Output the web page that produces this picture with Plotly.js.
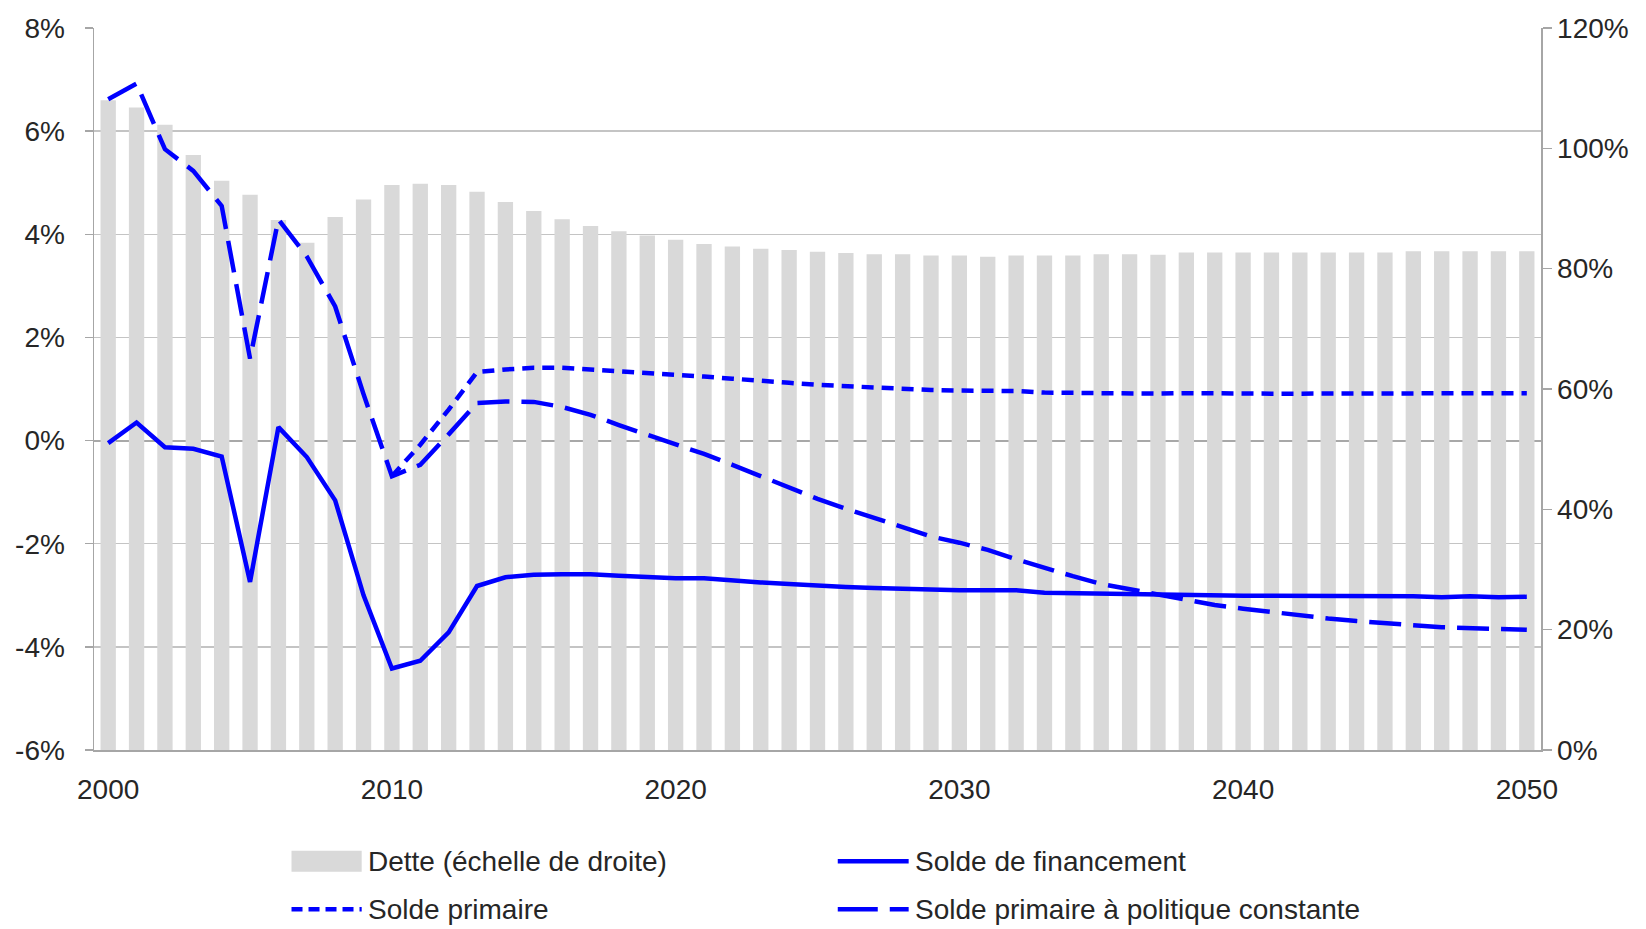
<!DOCTYPE html>
<html>
<head>
<meta charset="utf-8">
<script src="https://cdn.plot.ly/plotly-3.0.1.min.js"></script>
<style>html,body{margin:0;padding:0;background:#fff;}#chart{width:1646px;height:929px;}</style>
</head>
<body>
<div id="chart"></div>
<script>
var years = [];
for (var yr = 2000; yr <= 2050; yr++) years.push(yr);

var dette = [108.0,106.8,103.9,98.9,94.6,92.3,88.1,84.3,88.6,91.5,
  93.9,94.1,93.9,92.8,91.1,89.6,88.2,87.1,86.2,85.5,
  84.8,84.1,83.7,83.3,83.1,82.8,82.6,82.4,82.4,82.2,
  82.2,82.0,82.2,82.2,82.2,82.4,82.4,82.3,82.7,82.7,
  82.7,82.7,82.7,82.7,82.7,82.7,82.9,82.9,82.9,82.9,82.9];

var soldeFinancement = [-0.05,0.35,-0.13,-0.16,-0.31,-2.74,0.26,-0.32,-1.16,-3.0,
  -4.42,-4.27,-3.72,-2.82,-2.65,-2.6,-2.59,-2.59,-2.62,-2.65,
  -2.67,-2.67,-2.72,-2.75,-2.78,-2.82,-2.84,-2.86,-2.88,-2.9,
  -2.9,-2.9,-2.9,-2.95,-2.96,-2.98,-2.99,-3.0,-3.0,-3.01,
  -3.01,-3.01,-3.01,-3.03,-3.02,-3.03,-3.02,-3.04,-3.02,-3.04,-3.03];

var soldePrimaire = [null,null,null,null,null,null,null,null,null,null,
  -0.69,-0.08,0.6,1.33,1.38,1.41,1.41,1.38,1.35,1.31,
  1.27,1.24,1.2,1.15,1.12,1.08,1.05,1.02,1.0,0.98,
  0.97,0.97,0.96,0.93,0.92,0.92,0.92,0.91,0.92,0.91,
  0.91,0.91,0.91,0.91,0.91,0.92,0.91,0.92,0.92,0.91,0.92];

var soldePrimaireConstante = [6.62,6.92,5.65,5.23,4.55,1.59,4.29,3.57,2.6,0.9,
  -0.69,-0.47,0.12,0.73,0.76,0.75,0.65,0.5,0.3,0.12,
  -0.06,-0.26,-0.47,-0.69,-0.93,-1.13,-1.32,-1.5,-1.68,-1.86,
  -1.98,-2.12,-2.3,-2.47,-2.63,-2.78,-2.88,-2.98,-3.09,-3.19,
  -3.26,-3.33,-3.39,-3.45,-3.5,-3.55,-3.58,-3.62,-3.64,-3.66,-3.67];

var xTicks = [2000,2010,2020,2030,2040,2050];
var leftTicks = [-6,-4,-2,0,2,4,6,8];
var rightTicks = [0,20,40,60,80,100,120];
var legendLabels = ["Dette (échelle de droite)","Solde de financement","Solde primaire","Solde primaire à politique constante"];

var BLUE = "#0000FF";
var BARC = "#D9D9D9";
var TXT = "#262626";
var FONT = "Liberation Sans, Arial, sans-serif";
var FS = 28;
var LW = 4.5;

var traces = [
  {type:"bar", x:years, y:dette, name:legendLabels[0], marker:{color:BARC}, xaxis:"x", yaxis:"y"},
  {type:"scatter", mode:"lines", x:years, y:soldeFinancement, name:legendLabels[1], line:{color:BLUE, width:LW}, xaxis:"x", yaxis:"y2"},
  {type:"scatter", mode:"lines", x:years, y:soldePrimaire, name:legendLabels[2], line:{color:BLUE, width:LW, dash:"12px,8px"}, xaxis:"x", yaxis:"y2", connectgaps:false},
  {type:"scatter", mode:"lines", x:years, y:soldePrimaireConstante, name:legendLabels[3], line:{color:BLUE, width:LW, dash:"32px,12px"}, xaxis:"x", yaxis:"y2"}
];

// custom legend (paper coordinates)
var r1 = -0.154, r2 = -0.2205;
var c1s = 0.1365, c1e = 0.185, c2s = 0.514, c2e = 0.563;
var shapes = [
  {type:"rect", xref:"paper", yref:"paper", x0:c1s, x1:c1e, y0:r1-0.0145, y1:r1+0.0145, fillcolor:BARC, line:{width:0}},
  {type:"line", xref:"paper", yref:"paper", x0:c2s, x1:c2e, y0:r1, y1:r1, line:{color:BLUE, width:LW}},
  {type:"line", xref:"paper", yref:"paper", x0:c1s, x1:c1e, y0:r2, y1:r2, line:{color:BLUE, width:LW, dash:"11px,6px"}},
  {type:"line", xref:"paper", yref:"paper", x0:c2s, x1:c2e, y0:r2, y1:r2, line:{color:BLUE, width:LW, dash:"40px,12px"}}
];
var annotations = [
  {xref:"paper", yref:"paper", x:c1e+0.003, y:r1, text:legendLabels[0], showarrow:false, xanchor:"left", yanchor:"middle", font:{family:FONT, size:FS, color:TXT}},
  {xref:"paper", yref:"paper", x:c2e+0.003, y:r1, text:legendLabels[1], showarrow:false, xanchor:"left", yanchor:"middle", font:{family:FONT, size:FS, color:TXT}},
  {xref:"paper", yref:"paper", x:c1e+0.003, y:r2, text:legendLabels[2], showarrow:false, xanchor:"left", yanchor:"middle", font:{family:FONT, size:FS, color:TXT}},
  {xref:"paper", yref:"paper", x:c2e+0.003, y:r2, text:legendLabels[3], showarrow:false, xanchor:"left", yanchor:"middle", font:{family:FONT, size:FS, color:TXT}}
];

var layout = {
  width:1646, height:929,
  margin:{l:94, r:105, t:28, b:179},
  paper_bgcolor:"#fff", plot_bgcolor:"#fff",
  font:{family:FONT, size:FS, color:TXT},
  showlegend:false,
  bargap:0.46,
  xaxis:{
    type:"linear", range:[1999.5,2050.5], tickvals:xTicks, ticktext:xTicks.map(String),
    showgrid:false, zeroline:false, showline:true, linecolor:"#A6A6A6", linewidth:1.5,
    ticks:"", ticklabelstandoff:14, tickfont:{family:FONT, size:FS, color:TXT}
  },
  yaxis:{
    side:"right", range:[0,120], tickvals:rightTicks, ticktext:rightTicks.map(function(v){return v+"%";}),
    showgrid:false, zeroline:false, showline:true, linecolor:"#A6A6A6", linewidth:1.5,
    ticks:"outside", ticklen:9, tickcolor:"#A6A6A6", tickwidth:1.5, ticklabelstandoff:0,
    tickfont:{family:FONT, size:FS, color:TXT}
  },
  yaxis2:{
    side:"left", overlaying:"y", range:[-6,8], tickvals:leftTicks, ticktext:leftTicks.map(function(v){return v+"%";}),
    showgrid:true, gridcolor:"#C4C4C4", gridwidth:1.5,
    zeroline:true, zerolinecolor:"#A8A8A8", zerolinewidth:2,
    showline:true, linecolor:"#A6A6A6", linewidth:1.5,
    ticks:"outside", ticklen:8, tickcolor:"#A6A6A6", tickwidth:1.5, ticklabelstandoff:14,
    tickfont:{family:FONT, size:FS, color:TXT}
  },
  shapes:shapes,
  annotations:annotations
};

Plotly.newPlot("chart", traces, layout, {staticPlot:true, displayModeBar:false});
</script>
</body>
</html>
